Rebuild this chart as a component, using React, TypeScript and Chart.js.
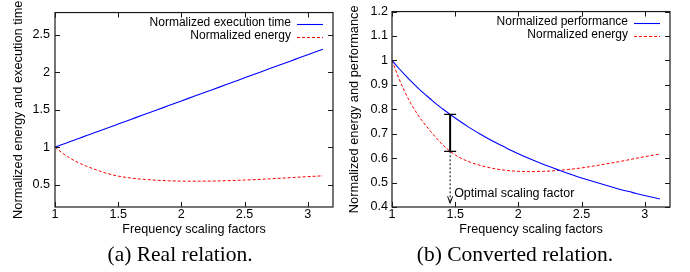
import React, { useEffect, useRef } from "react";
import { Chart, registerables } from "chart.js";

Chart.register(...registerables);

// ---------- data ----------
const FREQ = [1.0, 1.05, 1.1, 1.15, 1.2, 1.25, 1.3, 1.35, 1.4, 1.46, 1.5, 1.6, 1.7, 1.8, 1.9, 2.0, 2.1, 2.2, 2.3, 2.4, 2.5, 2.6, 2.7, 2.8, 2.9, 3.0, 3.12];
const EXEC_TIME = [1.0, 1.031, 1.062, 1.093, 1.124, 1.155, 1.185, 1.216, 1.247, 1.284, 1.309, 1.371, 1.433, 1.494, 1.556, 1.618, 1.68, 1.742, 1.803, 1.865, 1.927, 1.989, 2.051, 2.112, 2.174, 2.236, 2.31];
const PERFORMANCE = [1.0, 0.97, 0.942, 0.915, 0.89, 0.866, 0.844, 0.822, 0.802, 0.779, 0.764, 0.729, 0.698, 0.669, 0.643, 0.618, 0.595, 0.574, 0.555, 0.536, 0.519, 0.503, 0.488, 0.473, 0.46, 0.447, 0.433];
const ENERGY = [1.0, 0.932, 0.873, 0.823, 0.781, 0.745, 0.713, 0.683, 0.655, 0.628, 0.613, 0.587, 0.57, 0.558, 0.55, 0.546, 0.545, 0.546, 0.549, 0.554, 0.56, 0.568, 0.577, 0.586, 0.596, 0.606, 0.617];

const X_TICKS = [1, 1.5, 2, 2.5, 3];
const Y_TICKS_A = [0.5, 1, 1.5, 2, 2.5];
const Y_TICKS_B = [0.4, 0.5, 0.6, 0.7, 0.8, 0.9, 1, 1.1, 1.2];

const OPTIMAL_F = 1.46;
const OPTIMAL_PERF = 0.779;
const OPTIMAL_ENERGY = 0.628;
const ARROW_TIP = 0.415;
const OPTIMAL_LABEL_Y = 0.457;
const OPTIMAL_LABEL = "Optimal scaling factor";

const BLUE = "#0000ff";
const RED = "#ff0000";
const SANS = '"Liberation Sans", Arial, Helvetica, sans-serif';
const SERIF = '"Liberation Serif", "Times New Roman", serif';

type PanelProps = {
  blue: number[];
  blueLabel: string;
  yTitle: string;
  yMin: number;
  yMax: number;
  yTicks: number[];
  yAxisWidth: number;
  padRight: number;
  yTitlePad: number;
  yLabelPad: number;
  caption: string;
  captionX: number;
  annotate: boolean;
};

const fmt = (v: number) => String(Math.round(v * 100) / 100);

function Panel(p: PanelProps) {
  const ref = useRef<HTMLCanvasElement | null>(null);
  useEffect(() => {
    const canvas = ref.current!;
    const legendItems = [
      { label: p.blueLabel, color: BLUE, width: 1.1, dash: [] as number[] },
      { label: "Normalized energy", color: RED, width: 1.2, dash: [3, 2] },
    ];
    const overlay = {
      id: "gnuplotDecor",
      afterDraw(chart: any) {
        const ctx = chart.ctx as CanvasRenderingContext2D;
        const { left, right, top, bottom } = chart.chartArea;
        const xs = chart.scales.x;
        const ys = chart.scales.y;
        ctx.save();
        ctx.setLineDash([]);
        // frame
        ctx.strokeStyle = "#1a1a1a";
        ctx.lineWidth = 1.2;
        ctx.strokeRect(left, top, right - left, bottom - top);
        // inward ticks
        ctx.lineWidth = 1;
        ctx.beginPath();
        p.yTicks.forEach((v) => {
          const y = Math.round(ys.getPixelForValue(v)) + 0.5;
          ctx.moveTo(left, y); ctx.lineTo(left + 5, y);
          ctx.moveTo(right, y); ctx.lineTo(right - 5, y);
        });
        X_TICKS.forEach((v) => {
          const x = Math.round(xs.getPixelForValue(v)) + 0.5;
          ctx.moveTo(x, bottom); ctx.lineTo(x, bottom - 5);
          ctx.moveTo(x, top); ctx.lineTo(x, top + 5);
        });
        ctx.stroke();

        // legend (inside, top right)
        ctx.font = `12px ${SANS}`;
        ctx.textAlign = "right";
        ctx.textBaseline = "middle";
        legendItems.forEach((it, i) => {
          const y = Math.round(top + 10 + i * 13);
          ctx.fillStyle = "#000";
          ctx.fillText(it.label, right - 42, y);
          ctx.save();
          ctx.beginPath();
          ctx.strokeStyle = it.color;
          ctx.lineWidth = it.width;
          ctx.setLineDash(it.dash);
          ctx.moveTo(Math.round(right - 36), y + 1.5);
          ctx.lineTo(Math.round(right - 10), y + 1.5);
          ctx.stroke();
          ctx.restore();
        });

        if (p.annotate) {
          const x = xs.getPixelForValue(OPTIMAL_F);
          const yP = ys.getPixelForValue(OPTIMAL_PERF);
          const yE = ys.getPixelForValue(OPTIMAL_ENERGY);
          const yT = ys.getPixelForValue(ARROW_TIP);
          ctx.strokeStyle = "#000";
          // dotted arrow
          ctx.lineWidth = 1;
          ctx.setLineDash([2, 2]);
          ctx.beginPath();
          ctx.moveTo(x, yE);
          ctx.lineTo(x, yT);
          ctx.stroke();
          ctx.setLineDash([]);
          ctx.beginPath();
          ctx.moveTo(x - 2.5, yT - 7);
          ctx.lineTo(x, yT);
          ctx.lineTo(x + 2.5, yT - 7);
          ctx.stroke();
          // bar
          ctx.lineWidth = 2;
          ctx.beginPath();
          ctx.moveTo(x, yP);
          ctx.lineTo(x, yE);
          ctx.stroke();
          ctx.lineWidth = 1.3;
          ctx.beginPath();
          ctx.moveTo(x - 6, yP); ctx.lineTo(x + 6, yP);
          ctx.moveTo(x - 6, yE); ctx.lineTo(x + 6, yE);
          ctx.stroke();
          // label
          ctx.textAlign = "left";
          ctx.fillStyle = "#000";
          ctx.font = `12.5px ${SANS}`;
          ctx.fillText(OPTIMAL_LABEL, x + 4, ys.getPixelForValue(OPTIMAL_LABEL_Y));
        }

        // caption
        ctx.font = `21.5px ${SERIF}`;
        ctx.textAlign = "center";
        ctx.textBaseline = "alphabetic";
        ctx.fillStyle = "#000";
        ctx.fillText(p.caption, p.captionX, 261);
        ctx.restore();
      },
    };

    const chart = new Chart(canvas, {
      type: "line",
      data: {
        datasets: [
          {
            label: p.blueLabel,
            data: FREQ.map((x, i) => ({ x, y: p.blue[i] })),
            borderColor: BLUE,
            borderWidth: 1.1,
            pointRadius: 0,
            cubicInterpolationMode: "monotone",
            fill: false,
          },
          {
            label: "Normalized energy",
            data: FREQ.map((x, i) => ({ x, y: ENERGY[i] })),
            borderColor: RED,
            borderWidth: 1,
            borderDash: [3, 2],
            pointRadius: 0,
            cubicInterpolationMode: "monotone",
            fill: false,
          },
        ],
      },
      options: {
        animation: false,
        responsive: false,
        maintainAspectRatio: false,
        layout: { padding: { top: 9, right: p.padRight, left: 0, bottom: 0 } },
        plugins: { legend: { display: false }, tooltip: { enabled: false }, title: { display: false } },
        scales: {
          x: {
            type: "linear",
            min: 1,
            max: 3.2,
            afterBuildTicks: (s: any) => { s.ticks = X_TICKS.map((v) => ({ value: v })); },
            afterFit: (s: any) => { s.height = 65; },
            grid: { display: false, drawTicks: false },
            border: { display: false },
            ticks: { padding: 0, color: "#000", font: { family: SANS, size: 12.6 }, maxRotation: 0, autoSkip: false, callback: (v: any) => fmt(Number(v)) },
            title: { display: true, text: "Frequency scaling factors", color: "#000", font: { family: SANS, size: 12.6 }, padding: { top: 0, bottom: 35 } },
          },
          y: {
            type: "linear",
            min: p.yMin,
            max: p.yMax,
            afterBuildTicks: (s: any) => { s.ticks = p.yTicks.map((v) => ({ value: v })); },
            afterFit: (s: any) => { s.width = p.yAxisWidth; },
            grid: { display: false, drawTicks: false },
            border: { display: false },
            ticks: { padding: p.yLabelPad, color: "#000", font: { family: SANS, size: 12.6 }, autoSkip: false, callback: (v: any) => fmt(Number(v)) },
            title: { display: true, text: p.yTitle, color: "#000", font: { family: SANS, size: 12.8 }, padding: { top: p.yTitlePad, bottom: 0 } },
          },
        },
      } as any,
      plugins: [overlay],
    });
    return () => chart.destroy();
  }, []);
  return <canvas ref={ref} width={345} height={272} style={{ display: "block", width: 345, height: 272 }} />;
}

export default function App() {
  return (
    <div style={{ position: "absolute", left: 0, top: 0, width: 690, height: 272, display: "flex", background: "#fff" }}>
      <Panel
        blue={EXEC_TIME}
        blueLabel="Normalized execution time"
        yTitle="Normalized energy and execution time"
        yMin={0.2}
        yMax={2.8}
        yTicks={Y_TICKS_A}
        yAxisWidth={55}
        padRight={12}
        yTitlePad={11}
        yLabelPad={5}
        caption="(a) Real relation."
        captionX={180}
        annotate={false}
      />
      <Panel
        blue={PERFORMANCE}
        blueLabel="Normalized performance"
        yTitle="Normalized energy and performance"
        yMin={0.4}
        yMax={1.2}
        yTicks={Y_TICKS_B}
        yAxisWidth={47}
        padRight={20}
        yTitlePad={2}
        yLabelPad={4}
        caption="(b) Converted relation."
        captionX={170}
        annotate={true}
      />
    </div>
  );
}
